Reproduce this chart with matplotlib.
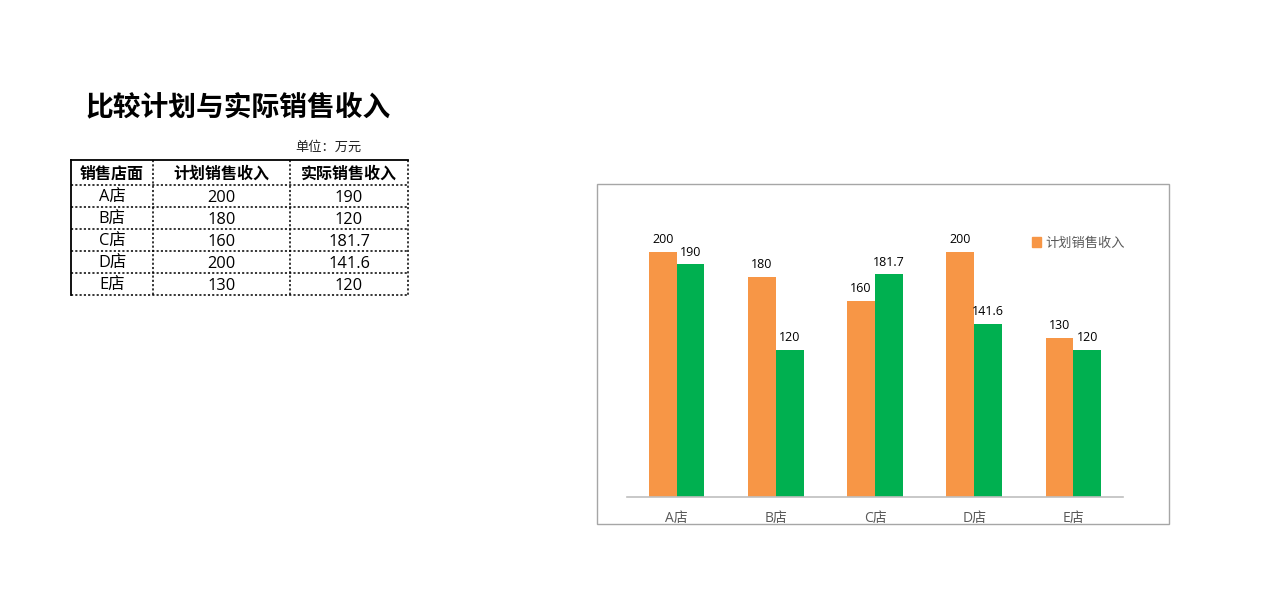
import numpy as np
import matplotlib
matplotlib.use("Agg")
import matplotlib.pyplot as plt
from matplotlib.patches import Rectangle, Patch

plt.rcParams['font.family'] = ['Noto Sans CJK SC', 'DejaVu Sans']
LATIN = ['Open Sans', 'Noto Sans CJK SC']

# data
title = "比较计划与实际销售收入"
unit = "单位：万元"
headers = ["销售店面", "计划销售收入", "实际销售收入"]
stores = ["A店", "B店", "C店", "D店", "E店"]
plan = [200, 180, 160, 200, 130]
actual = [190, 120, 181.7, 141.6, 120]

ORANGE = "#F79646"
GREEN = "#00B050"

W, H = 1280, 613
fig = plt.figure(figsize=(W / 100, H / 100), dpi=100)

# full-figure overlay in pixel coords for the title and the table
bg = fig.add_axes([0, 0, 1, 1])
bg.set_xlim(0, W)
bg.set_ylim(H, 0)
bg.axis("off")

bg.text(238, 107, title, fontsize=20, fontweight="bold", ha="center", va="center")
bg.text(328, 147, unit, fontsize=9.5, ha="center", va="center", color="#222222")

# table grid: solid top/left edge, dotted everywhere else
col_x = [71, 153, 290, 408]
row_y = [160, 185, 207, 229, 251, 273, 295]
dots = dict(color="black", lw=1.1, ls=(0, (1.4, 1.4)))
for xx in col_x[1:]:
    bg.plot([xx, xx], [row_y[0], row_y[-1]], **dots)
for yy in row_y[1:]:
    bg.plot([col_x[0], col_x[-1]], [yy, yy], **dots)
bg.plot([col_x[0], col_x[-1]], [row_y[0], row_y[0]], color="black", lw=1.3)
bg.plot([col_x[0], col_x[0]], [row_y[0], row_y[-1]], color="black", lw=1.3)

centers = [(col_x[i] + col_x[i + 1]) / 2 for i in range(3)]
for i, h in enumerate(headers):
    bg.text(centers[i], (row_y[0] + row_y[1]) / 2 + 1, h, fontsize=11.5, fontweight="bold",
            ha="center", va="center")
for r in range(len(stores)):
    yc = (row_y[r + 1] + row_y[r + 2]) / 2 + 1.5
    for i, val in enumerate([stores[r], plan[r], actual[r]]):
        bg.text(centers[i], yc, str(val), fontsize=11.8, ha="center", va="center",
                family=LATIN)

# chart frame
bg.add_patch(Rectangle((597, 184), 1169 - 597, 524 - 184, fill=False, ec="#a6a6a6", lw=1))

# bar chart
ax = fig.add_axes([627 / W, (H - 497) / H, 496 / W, (497 - 203) / H])
x = np.arange(len(stores))
bw = 0.28
b1 = ax.bar(x - bw / 2, plan, bw, color=ORANGE, label="计划销售收入")
b2 = ax.bar(x + bw / 2, actual, bw, color=GREEN, label="实际销售收入")
ax.set_xlim(-0.5, len(stores) - 0.5)
ax.set_ylim(0, 240)

for bars, vals in [(b1, plan), (b2, actual)]:
    for rect, v in zip(bars, vals):
        ax.annotate(str(v), (rect.get_x() + rect.get_width() / 2, v), xytext=(0, 4),
                    textcoords="offset points", ha="center", va="bottom", fontsize=9,
                    color="black", family=LATIN)

for s in ["top", "right", "left"]:
    ax.spines[s].set_visible(False)
ax.spines["bottom"].set_color("#bfbfbf")
ax.spines["bottom"].set_linewidth(1.2)
ax.set_yticks([])
ax.set_xticks(x)
ax.set_xticklabels(stores, fontsize=10, color="#595959", family=LATIN)
ax.tick_params(axis="x", length=0, pad=10)

fig.legend(handles=[Patch(color=ORANGE, label="计划销售收入")], loc="center left",
           bbox_to_anchor=(1020 / W, (H - 243) / H), frameon=False, fontsize=9.5,
           handlelength=0.7, handleheight=0.7, handletextpad=0.3, labelcolor="#595959")

fig.savefig("out.png", dpi=100)
